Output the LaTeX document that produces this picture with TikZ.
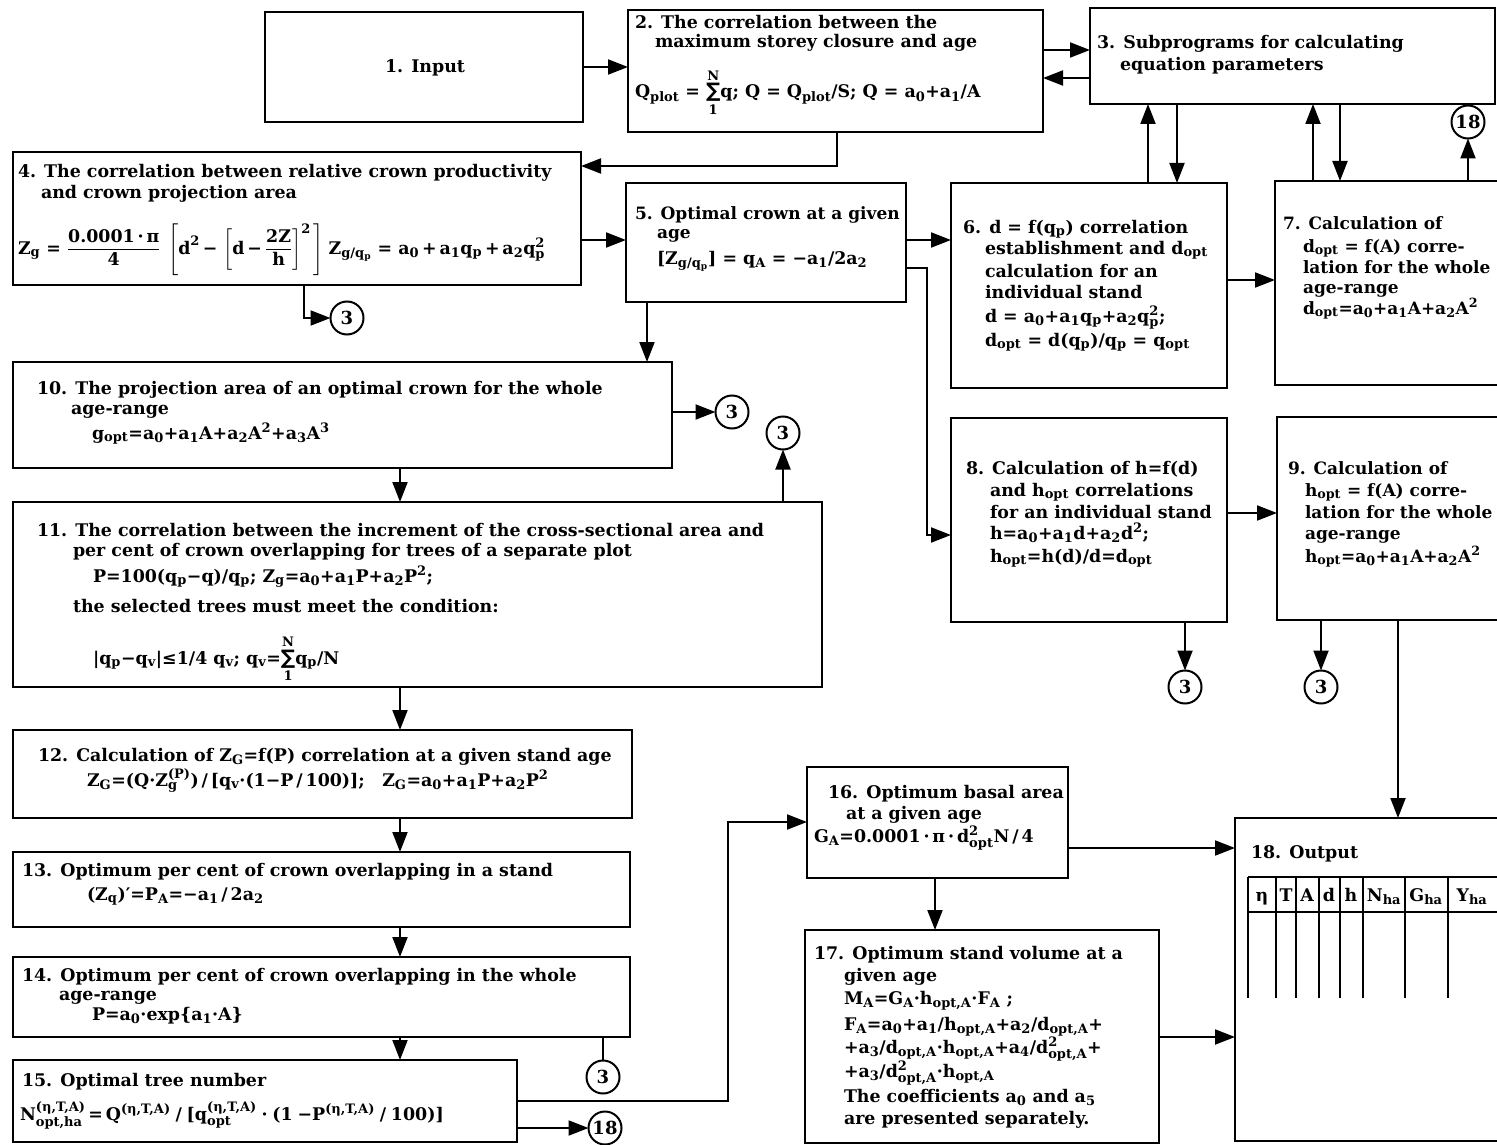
\documentclass[tikz,border=0pt]{standalone}
\usepackage{amsmath}
\usepackage{fontspec}
\setmainfont{DejaVu Serif}
\newfontfamily\symf{DejaVu Sans}
\usetikzlibrary{arrows.meta}
\DeclareMathSizes{17.4}{17.4}{13}{10}
\DeclareMathSizes{17}{17}{12.7}{10}
\newcommand\dn[1]{\ensuremath{_{\text{#1}}}}
\newcommand\up[1]{\ensuremath{^{\text{#1}}}}
\newcommand\ud[2]{\ensuremath{^{\text{#1}}_{\text{#2}}}}
\newcommand\Sm{\ensuremath{\mathop{\text{\symf\bfseries\fontsize{20}{20}\selectfont ∑}}\limits_{\text{1}}^{\text{N}}}}
\begin{document}
\begin{tikzpicture}[x=1pt,y=-1pt,
  box/.style={draw, line width=2pt, rectangle, inner sep=0pt, outer sep=0pt, anchor=north west},
  tx/.style={anchor=base west, inner sep=0pt, outer sep=0pt, font=\bfseries\fontsize{17.4}{21}\selectfont},
  txs/.style={tx, font=\bfseries\fontsize{17}{21}\selectfont},
  tc/.style={anchor=base, inner sep=0pt, outer sep=0pt, font=\bfseries\fontsize{17.4}{21}\selectfont},
  arr/.style={line width=2pt, -{Triangle[length=20pt,width=15pt]}},
  ln/.style={line width=2pt},
  cc/.style={circle, draw, line width=2pt, minimum size=33pt, inner sep=0pt, outer sep=0pt, font=\bfseries\fontsize{18}{18}\selectfont},
  tl/.style={line width=1.5pt}]
\useasboundingbox (0,0) rectangle (1497,1145);
\clip (0,0) rectangle (1497,1145);
\fill[white] (0,0) rectangle (1497,1145);

% boxes
\node[box, minimum width=318pt, minimum height=110pt] (b1) at (265,12) {};
\node[box, minimum width=415pt, minimum height=122pt] (b2) at (628,10) {};
\node[box, minimum width=405pt, minimum height=96pt] (b3) at (1090,8) {};
\node[box, minimum width=568pt, minimum height=133pt] (b4) at (13,152) {};
\node[box, minimum width=280pt, minimum height=119pt] (b5) at (626,183) {};
\node[box, minimum width=276pt, minimum height=205pt] (b6) at (951,183) {};
\node[box, minimum width=260pt, minimum height=204pt] (b7) at (1275,181) {};
\node[box, minimum width=276pt, minimum height=204pt] (b8) at (951,418) {};
\node[box, minimum width=260pt, minimum height=203pt] (b9) at (1277,417) {};
\node[box, minimum width=659pt, minimum height=106pt] (b10) at (13,362) {};
\node[box, minimum width=809pt, minimum height=185pt] (b11) at (13,502) {};
\node[box, minimum width=619pt, minimum height=88pt] (b12) at (13,730) {};
\node[box, minimum width=617pt, minimum height=75pt] (b13) at (13,852) {};
\node[box, minimum width=617pt, minimum height=80pt] (b14) at (13,957) {};
\node[box, minimum width=504pt, minimum height=82pt] (b15) at (13,1060) {};
\node[box, minimum width=261pt, minimum height=111pt] (b16) at (807,767) {};
\node[box, minimum width=354pt, minimum height=213pt] (b17) at (805,930) {};
\node[box, minimum width=300pt, minimum height=323pt] (b18) at (1235,818) {};

% connector circles
\node[cc] (c4) at (347,318) {3};
\node[cc] (c10) at (732,412) {3};
\node[cc] (c11) at (783,433) {3};
\node[cc] (c8) at (1185,687) {3};
\node[cc] (c9) at (1321,687) {3};
\node[cc] (c14) at (603,1077) {3};
\node[cc] (c15) at (605,1128) {18};
\node[cc] (c7) at (1468,122) {18};

% texts
\node[tc] (t1) at (425,73) {1. Input};

\node[tx] (t2a) at (635,29) {2. The correlation between the};
\node[tx] (t2b) at (655,48) {maximum storey closure and age};
\node[tx] (t2c) at (635,98) {Q\dn{plot} = \Sm q; Q = Q\dn{plot}/S; Q = a\dn{0}+a\dn{1}/A};

\node[tx] (t3a) at (1097,49) {3. Subprograms for calculating};
\node[tx] (t3b) at (1120,71) {equation parameters};

\node[tx] (t4a) at (18,178) {4. The correlation between relative crown productivity};
\node[tx] (t4b) at (41,198) {and crown projection area};
\node[tx] (t4c) at (18,254) {Z\dn{g} = $\dfrac{\text{0.0001\,·\,π}}{\text{4}}\;\left[\text{d}^{\text{2}}\text{\,−\,}\left[\text{d\,−\,}\dfrac{\text{2Z}}{\text{h}}\right]^{\text{2}}\,\right]$\;Z\dn{g/q$_\text{p}$} = a\dn{0}\,+\,a\dn{1}q\dn{p}\,+\,a\dn{2}q\ud{2}{p}};

\node[txs] (t5a) at (635,219) {5. Optimal crown at a given};
\node[txs] (t5b) at (657,238) {age};
\node[tx] (t5c) at (657,264) {[Z\dn{g/q$_\text{p}$}] = q\dn{A} = −a\dn{1}/2a\dn{2}};

\node[tx] (t6a) at (963,233) {6. d = f(q\dn{p}) correlation};
\node[tx] (t6b) at (985,254) {establishment and d\dn{opt}};
\node[tx] (t6c) at (985,277) {calculation for an};
\node[tx] (t6d) at (985,298) {individual stand};
\node[tx] (t6e) at (985,322) {d = a\dn{0}+a\dn{1}q\dn{p}+a\dn{2}q\ud{2}{p};};
\node[tx] (t6f) at (985,346) {d\dn{opt} = d(q\dn{p})/q\dn{p} = q\dn{opt}};

\node[txs] (t7a) at (1283,229) {7. Calculation of};
\node[txs] (t7b) at (1303,252) {d\dn{opt} = f(A) corre-};
\node[txs] (t7c) at (1303,273) {lation for the whole};
\node[txs] (t7d) at (1303,293) {age-range};
\node[txs] (t7e) at (1303,314) {d\dn{opt}=a\dn{0}+a\dn{1}A+a\dn{2}A\up{2}};

\node[tx] (t8a) at (966,474) {8. Calculation of h=f(d)};
\node[tx] (t8b) at (990,496) {and h\dn{opt} correlations};
\node[tx] (t8c) at (990,518) {for an individual stand};
\node[tx] (t8d) at (990,539) {h=a\dn{0}+a\dn{1}d+a\dn{2}d\up{2};};
\node[tx] (t8e) at (990,562) {h\dn{opt}=h(d)/d=d\dn{opt}};

\node[txs] (t9a) at (1288,474) {9. Calculation of};
\node[txs] (t9b) at (1305,496) {h\dn{opt} = f(A) corre-};
\node[txs] (t9c) at (1305,518) {lation for the whole};
\node[txs] (t9d) at (1305,539) {age-range};
\node[txs] (t9e) at (1305,562) {h\dn{opt}=a\dn{0}+a\dn{1}A+a\dn{2}A\up{2}};

\node[tx] (t10a) at (37,394) {10. The projection area of an optimal crown for the whole};
\node[tx] (t10b) at (71,414) {age-range};
\node[tx] (t10c) at (92,439) {g\dn{opt}=a\dn{0}+a\dn{1}A+a\dn{2}A\up{2}+a\dn{3}A\up{3}};

\node[tx] (t11a) at (37,536) {11. The correlation between the increment of the cross-sectional area and};
\node[tx] (t11b) at (73,556) {per cent of crown overlapping for trees of a separate plot};
\node[tx] (t11c) at (93,582) {P=100(q\dn{p}−q)/q\dn{p}; Z\dn{g}=a\dn{0}+a\dn{1}P+a\dn{2}P\up{2};};
\node[tx] (t11d) at (73,612) {the selected trees must meet the condition:};
\node[tx] (t11e) at (93,664) {|q\dn{p}−q\dn{v}|≤1/4 q\dn{v}; q\dn{v}=\Sm q\dn{p}/N};

\node[tx] (t12a) at (38,761) {12. Calculation of Z\dn{G}=f(P) correlation at a given stand age};
\node[tx] (t12b) at (87,786) {Z\dn{G}=(Q·Z\ud{(P)}{g})\,/\,[q\dn{v}·(1−P\,/\,100)];\quad Z\dn{G}=a\dn{0}+a\dn{1}P+a\dn{2}P\up{2}};

\node[tx] (t13a) at (22,876) {13. Optimum per cent of crown overlapping in a stand};
\node[tx] (t13b) at (87,900) {(Z\dn{q})′=P\dn{A}=−a\dn{1}\,/\,2a\dn{2}};

\node[tx] (t14a) at (22,981) {14. Optimum per cent of crown overlapping in the whole};
\node[tx] (t14b) at (59,1000) {age-range};
\node[tx] (t14c) at (92,1020) {P=a\dn{0}·exp\{a\dn{1}·A\}};

\node[tx] (t15a) at (22,1086) {15. Optimal tree number};
\node[tx] (t15b) at (20,1120) {N\ud{(η,T,A)}{opt,ha}\,=\,Q\up{(η,T,A)}\;/\;[q\ud{(η,T,A)}{opt}\;·\;(1\;−P\up{(η,T,A)}\;/\;100)]};

\node[tx] (t16a) at (828,798) {16. Optimum basal area};
\node[tx] (t16b) at (846,819) {at a given age};
\node[tx] (t16c) at (814,842) {G\dn{A}=0.0001\,·\,π\,·\,d\ud{2}{opt}N\,/\,4};

\node[tx] (t17a) at (814,959) {17. Optimum stand volume at a};
\node[tx] (t17b) at (844,981) {given age};
\node[tx] (t17c) at (844,1004) {M\dn{A}=G\dn{A}·h\dn{opt,A}·F\dn{A} ;};
\node[tx] (t17d) at (844,1030) {F\dn{A}=a\dn{0}+a\dn{1}/h\dn{opt,A}+a\dn{2}/d\dn{opt,A}+};
\node[tx] (t17e) at (844,1053) {+a\dn{3}/d\dn{opt,A}·h\dn{opt,A}+a\dn{4}/d\ud{2}{opt,A}+};
\node[tx] (t17f) at (844,1077) {+a\dn{3}/d\ud{2}{opt,A}·h\dn{opt,A}};
\node[tx] (t17g) at (844,1102) {The coefficients a\dn{0} and a\dn{5}};
\node[tx] (t17h) at (844,1124) {are presented separately.};

\node[tx] (t18) at (1251,858) {18. Output};

% output table
\draw[tl] (1248,877) -- (1530,877);
\draw[tl] (1248,912) -- (1530,912);
\foreach \xx in {1248,1276,1296,1319,1340,1363,1405,1448}
  \draw[tl] (\xx,877) -- (\xx,998);
\node[tc] (h1) at (1262,901) {η};
\node[tc] (h2) at (1286,901) {T};
\node[tc] (h3) at (1307,901) {A};
\node[tc] (h4) at (1329,901) {d};
\node[tc] (h5) at (1351,901) {h};
\node[tc] (h6) at (1384,901) {N\dn{ha}};
\node[tc] (h7) at (1426,901) {G\dn{ha}};
\node[tc] (h8) at (1472,901) {Y\dn{ha}};

% connectors
\draw[arr] (b1.east |- 0,67) -- (b2.west |- 0,67);
\draw[arr] (b2.east |- 0,50) -- (b3.west |- 0,50);
\draw[arr] (b3.west |- 0,78) -- (b2.east |- 0,78);
\draw[arr] (b2.south -| 837,0) |- (b4.east |- 0,166);
\draw[arr] (b4.east |- 0,240) -- (b5.west |- 0,240);
\draw[arr] (b4.south -| 304,0) |- (c4);
\draw[arr] (b5.east |- 0,240) -- (b6.west |- 0,240);
\draw[arr] (b5.east |- 0,268) -- (927,268) -- (927,535) -- (b8.west |- 0,535);
\draw[arr] (b5.south -| 647,0) -- (b10.north -| 647,0);
\draw[arr] (b6.east |- 0,280) -- (b7.west |- 0,280);
\draw[arr] (b6.north -| 1148,0) -- (b3.south -| 1148,0);
\draw[arr] (b3.south -| 1177,0) -- (b6.north -| 1177,0);
\draw[arr] (b7.north -| 1313,0) -- (b3.south -| 1313,0);
\draw[arr] (b3.south -| 1340,0) -- (b7.north -| 1340,0);
\draw[arr] (b7.north -| c7) -- (c7);
\draw[arr] (b10.east |- c10) -- (c10);
\draw[arr] (b10.south -| 400,0) -- (b11.north -| 400,0);
\draw[arr] (b11.north -| c11) -- (c11);
\draw[arr] (b8.east |- 0,513) -- (b9.west |- 0,513);
\draw[arr] (b8.south -| c8) -- (c8);
\draw[arr] (b9.south -| c9) -- (c9);
\draw[arr] (b9.south -| 1398,0) -- (b18.north -| 1398,0);
\draw[arr] (b11.south -| 400,0) -- (b12.north -| 400,0);
\draw[arr] (b12.south -| 400,0) -- (b13.north -| 400,0);
\draw[arr] (b13.south -| 400,0) -- (b14.north -| 400,0);
\draw[arr] (b14.south -| 400,0) -- (b15.north -| 400,0);
\draw[ln] (b14.south -| c14) -- (c14);
\draw[arr] (b15.east |- 0,1101) -- (728,1101) -- (728,822) -- (b16.west |- 0,822);
\draw[arr] (b15.east |- c15) -- (c15);
\draw[arr] (b16.east |- 0,848) -- (b18.west |- 0,848);
\draw[arr] (b16.south -| 935,0) -- (b17.north -| 935,0);
\draw[arr] (b17.east |- 0,1037) -- (b18.west |- 0,1037);
\end{tikzpicture}
\end{document}
